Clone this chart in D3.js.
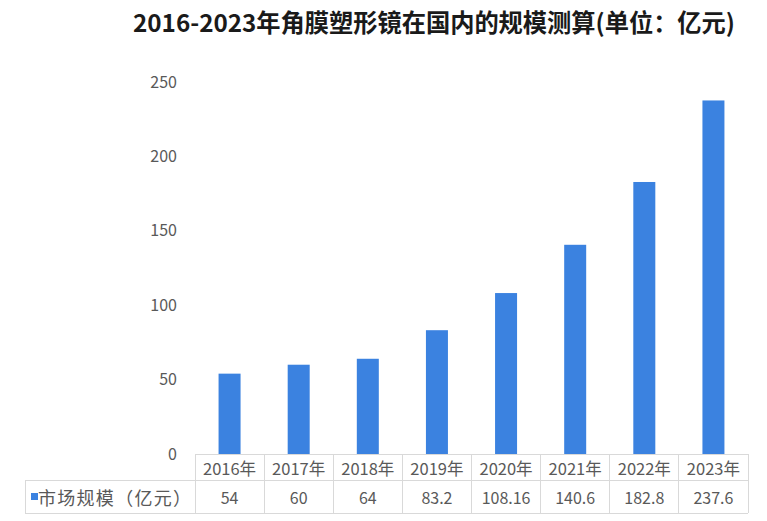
<!DOCTYPE html>
<html><head><meta charset="utf-8">
<script src="https://cdn.jsdelivr.net/npm/d3@7"></script>
<style>
html,body{margin:0;padding:0;background:#fff;}
svg{display:block;font-family:"Noto Sans CJK SC","Noto Sans",sans-serif;}
</style></head>
<body>
<svg id="chart" width="767" height="521"></svg>
<script>
const title = "2016-2023年角膜塑形镜在国内的规模测算(单位：亿元)";
const seriesName = "市场规模（亿元）";
const categories = ["2016年","2017年","2018年","2019年","2020年","2021年","2022年","2023年"];
const values = [54, 60, 64, 83.2, 108.16, 140.6, 182.8, 237.6];
const valueLabels = ["54","60","64","83.2","108.16","140.6","182.8","237.6"];
const yTicks = [0, 50, 100, 150, 200, 250];

const svg = d3.select("#chart");
const plotLeft = 195, plotRight = 748, yBase = 454, yTop = 82;
const row1 = 480, row2 = 513, legendLeft = 25;
const grid = "#d9d9d9", textColor = "#595959", barColor = "#3b82e0";

svg.append("text").attr("x", 133).attr("y", 32)
  .attr("font-size", 24.5).attr("font-weight", "bold").attr("fill", "#1a1a1a")
  .attr("textLength", 602).attr("lengthAdjust", "spacingAndGlyphs")
  .text(title);

const x = d3.scaleBand().domain(categories).range([plotLeft, plotRight]).padding(0);
const y = d3.scaleLinear().domain([0, 250]).range([yBase, yTop]);

// y axis
const yAxis = d3.axisLeft(y).tickValues(yTicks).tickSize(0).tickPadding(18);
const ga = svg.append("g").attr("transform", `translate(${plotLeft},0)`).call(yAxis);
ga.select(".domain").remove();
ga.selectAll("text").attr("font-size", 16).attr("fill", textColor)
  .attr("font-family", '"Noto Sans CJK SC","Noto Sans",sans-serif');

// bars
const barW = 22;
svg.append("g").selectAll("rect").data(values).join("rect")
  .attr("x", (d, i) => x(categories[i]) + x.bandwidth() / 2 - barW / 2)
  .attr("y", d => y(d))
  .attr("width", barW)
  .attr("height", d => y(0) - y(d))
  .attr("fill", barColor);

// data table
const tg = svg.append("g").attr("stroke", grid).attr("stroke-width", 1).attr("shape-rendering", "crispEdges");
tg.append("line").attr("x1", plotLeft).attr("x2", plotRight).attr("y1", yBase).attr("y2", yBase);
tg.append("line").attr("x1", legendLeft).attr("x2", plotRight).attr("y1", row1).attr("y2", row1);
tg.append("line").attr("x1", legendLeft).attr("x2", plotRight).attr("y1", row2).attr("y2", row2);
tg.append("line").attr("x1", legendLeft).attr("x2", legendLeft).attr("y1", row1).attr("y2", row2);
const edges = categories.map(c => x(c)).concat([plotRight]);
tg.selectAll("line.v").data(edges).join("line").attr("class", "v")
  .attr("x1", d => d).attr("x2", d => d).attr("y1", yBase).attr("y2", row2);

svg.append("g").selectAll("text").data(categories).join("text")
  .attr("x", d => x(d) + x.bandwidth() / 2).attr("y", (yBase + row1) / 2 + 1)
  .attr("text-anchor", "middle").attr("dominant-baseline", "central")
  .attr("font-size", 16.5).attr("fill", textColor).text(d => d);

svg.append("g").selectAll("text").data(valueLabels).join("text")
  .attr("x", (d, i) => x(categories[i]) + x.bandwidth() / 2).attr("y", (row1 + row2) / 2)
  .attr("text-anchor", "middle").attr("dominant-baseline", "central")
  .attr("font-size", 16).attr("fill", textColor).text(d => d);

// legend key
svg.append("rect").attr("x", 31).attr("y", (row1 + row2) / 2 - 3.5).attr("width", 7).attr("height", 7).attr("fill", barColor);
svg.append("text").attr("x", 38).attr("y", (row1 + row2) / 2)
  .attr("dominant-baseline", "central").attr("font-size", 18).attr("fill", textColor)
  .attr("textLength", 153).attr("lengthAdjust", "spacing")
  .text(seriesName);
</script>
</body></html>
